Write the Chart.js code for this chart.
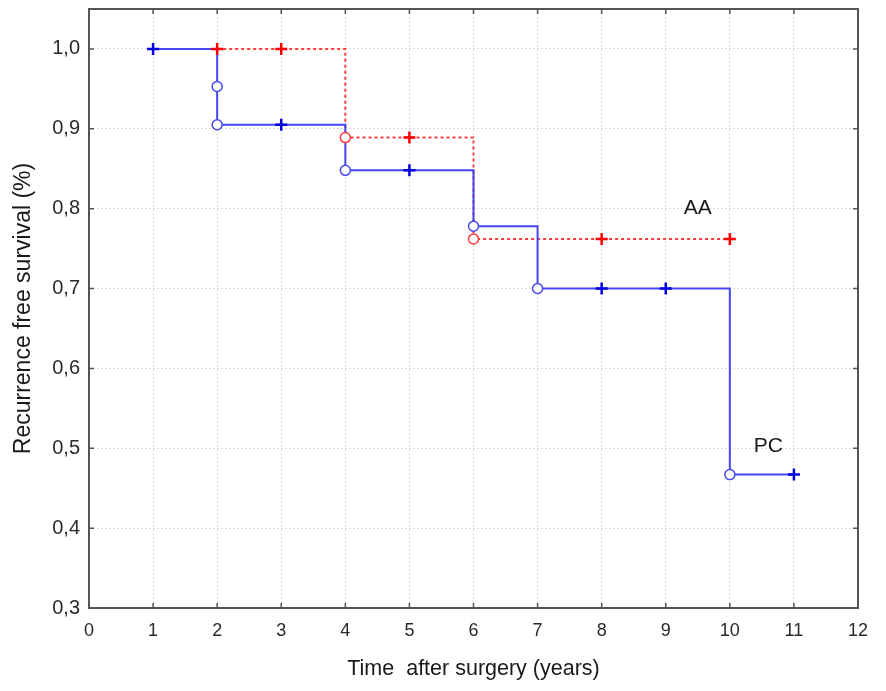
<!DOCTYPE html>
<html>
<head>
<meta charset="utf-8">
<script src="https://cdn.jsdelivr.net/npm/chart.js@4/dist/chart.umd.min.js"></script>
<style>
  html, body { margin: 0; padding: 0; background: #fff; }
  #wrap { width: 886px; height: 691px; }
</style>
</head>
<body>
<div id="wrap"><canvas id="kmChart" width="886" height="691"></canvas></div>
<script>
// PC group (solid blue)
const pcTime = [1, 2, 2, 3, 4, 5, 6, 7, 8, 9, 10, 11];
const pcSurv = [1.0, 0.953, 0.905, 0.905, 0.848, 0.848, 0.778, 0.700, 0.700, 0.700, 0.467, 0.467];
const pcCensored = [true, false, false, true, false, true, false, false, true, true, false, true];

// AA group (dotted red)
const aaTime = [2, 3, 4, 5, 6, 8, 10];
const aaSurv = [1.0, 1.0, 0.889, 0.889, 0.762, 0.762, 0.762];
const aaCensored = [true, true, false, true, false, true, true];

const xTicks = [0, 1, 2, 3, 4, 5, 6, 7, 8, 9, 10, 11, 12];
const yTicks = [0.3, 0.4, 0.5, 0.6, 0.7, 0.8, 0.9, 1.0];

const groupLabels = [
    { text: 'AA', x: 9.5, y: 0.80 },
    { text: 'PC', x: 10.6, y: 0.502 },
];

const toPoints = (xs, ys) => xs.map((x, i) => ({ x, y: ys[i] }));
const styles = (flags) => flags.map((c) => (c ? 'cross' : 'circle'));

const frame = {
    id: 'frame',
    afterDatasetsDraw(chart) {
        const { ctx, chartArea: a, scales } = chart;
        ctx.save();
        ctx.strokeStyle = '#555';
        ctx.lineWidth = 1.5;
        ctx.beginPath();
        xTicks.forEach((v) => {
            const px = scales.x.getPixelForValue(v);
            ctx.moveTo(px, a.bottom); ctx.lineTo(px, a.bottom - 5);
            ctx.moveTo(px, a.top); ctx.lineTo(px, a.top + 5);
        });
        yTicks.forEach((v) => {
            const py = scales.y.getPixelForValue(v);
            ctx.moveTo(a.left, py); ctx.lineTo(a.left + 5, py);
            ctx.moveTo(a.right, py); ctx.lineTo(a.right - 5, py);
        });
        ctx.stroke();
        ctx.lineWidth = 2;
        ctx.strokeRect(a.left, a.top, a.right - a.left, a.bottom - a.top);

        ctx.fillStyle = '#1a1a1a';
        ctx.font = '21px "Liberation Sans"';
        ctx.textAlign = 'center';
        ctx.textBaseline = 'middle';
        groupLabels.forEach((l) => {
            ctx.fillText(l.text, scales.x.getPixelForValue(l.x), scales.y.getPixelForValue(l.y));
        });
        ctx.restore();
    },
};

new Chart(document.getElementById('kmChart'), {
    type: 'scatter',
    data: {
        datasets: [
            {
                label: 'AA line',
                data: toPoints(aaTime, aaSurv),
                showLine: true,
                stepped: 'before',
                borderColor: '#ff3b3b',
                borderWidth: 2,
                borderDash: [3, 3],
                pointRadius: 0,
                order: 4,
            },
            {
                label: 'PC line',
                data: toPoints(pcTime, pcSurv),
                showLine: true,
                stepped: 'before',
                borderColor: '#4646f2',
                borderWidth: 2,
                pointRadius: 0,
                order: 3,
            },
            {
                label: 'AA',
                data: toPoints(aaTime, aaSurv),
                showLine: false,
                pointStyle: styles(aaCensored),
                pointRadius: aaCensored.map((c) => (c ? 6 : 5)),
                pointBorderWidth: aaCensored.map((c) => (c ? 2.5 : 1.5)),
                pointBorderColor: aaCensored.map((c) => (c ? '#ff0000' : '#ff3b3b')),
                pointBackgroundColor: '#fff',
                order: 2,
            },
            {
                label: 'PC',
                data: toPoints(pcTime, pcSurv),
                showLine: false,
                pointStyle: styles(pcCensored),
                pointRadius: pcCensored.map((c) => (c ? 6 : 5)),
                pointBorderWidth: pcCensored.map((c) => (c ? 2.5 : 1.5)),
                pointBorderColor: pcCensored.map((c) => (c ? '#0000e0' : '#4646f2')),
                pointBackgroundColor: '#fff',
                order: 1,
            },
        ],
    },
    options: {
        responsive: false,
        animation: false,
        layout: { padding: { top: 9, right: 28, left: 0, bottom: 0 } },
        plugins: {
            legend: { display: false },
            tooltip: { enabled: false },
        },
        scales: {
            x: {
                type: 'linear',
                min: 0,
                max: 12,
                afterBuildTicks: (axis) => { axis.ticks = xTicks.map((value) => ({ value })); },
                afterFit: (axis) => { axis.height = 83; },
                grid: { color: '#dcdcdc', drawTicks: false, lineWidth: 1 },
                border: { display: false, dash: [2, 2] },
                ticks: {
                    padding: 12,
                    color: '#2a2a2a',
                    font: { family: '"Liberation Sans"', size: 18 },
                    maxRotation: 0,
                },
                title: {
                    display: true,
                    text: 'Time  after surgery (years)',
                    color: '#1a1a1a',
                    font: { family: '"Liberation Sans"', size: 21.5 },
                    padding: { top: 0, bottom: 9 },
                },
            },
            y: {
                type: 'linear',
                min: 0.3,
                max: 1.05,
                afterBuildTicks: (axis) => { axis.ticks = yTicks.map((value) => ({ value })); },
                afterFit: (axis) => {
                    axis.width = 89;
                    axis.paddingTop = 0;
                    axis.paddingBottom = 0;
                },
                grid: { color: '#dcdcdc', drawTicks: false, lineWidth: 1 },
                border: { display: false, dash: [2, 2] },
                ticks: {
                    padding: 9,
                    color: '#2a2a2a',
                    font: { family: '"Liberation Sans"', size: 20 },
                    callback: (value) => value.toFixed(1).replace('.', ','),
                },
                title: {
                    display: true,
                    text: 'Recurrence free survival (%)',
                    color: '#1a1a1a',
                    font: { family: '"Liberation Sans"', size: 23 },
                    padding: { top: 10, bottom: 0 },
                },
            },
        },
    },
    plugins: [frame],
});
</script>
</body>
</html>
